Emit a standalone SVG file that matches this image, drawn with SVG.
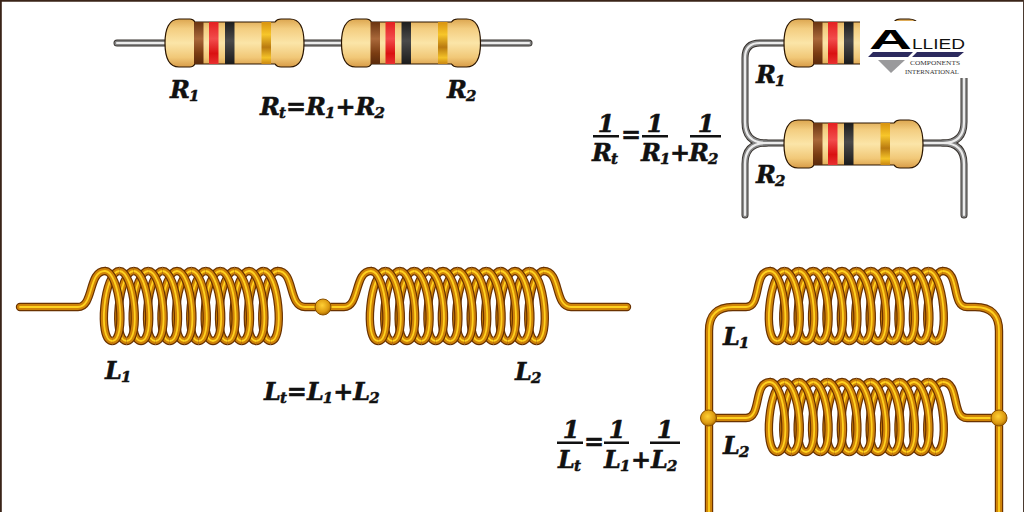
<svg xmlns="http://www.w3.org/2000/svg" width="1024" height="512" viewBox="0 0 1024 512">
<style>
.o,.m,.c,.go,.gm,.gc{fill:none}
.o{stroke:#6a3200;stroke-width:8.4}
.m{stroke:#d08408;stroke-width:6}
.c{stroke:#ffd21f;stroke-width:1.8}
.go{stroke:#35302c;stroke-width:7;stroke-linecap:round}
.gm{stroke:#858585;stroke-width:5.2;stroke-linecap:round}
.gc{stroke:#ececec;stroke-width:2.2;stroke-linecap:round}
.rc{stroke-linecap:round}
.t{font-family:"DejaVu Serif","Liberation Serif",serif;font-weight:bold;font-style:italic;font-size:24px;fill:#111;stroke:#111;stroke-width:.5}
.n{font-style:normal}
.s{font-size:15px}
.b{fill:#111}
.body{fill:url(#bg);stroke:#2a1500;stroke-width:1.2}
.ball{fill:url(#bl);stroke:#8a5000;stroke-width:1}
</style>
<defs>
<linearGradient id="bg" x1="0" y1="0" x2="0" y2="1"><stop offset="0" stop-color="#dca650"/><stop offset=".2" stop-color="#f3cd80"/><stop offset=".5" stop-color="#fbe5a8"/><stop offset=".8" stop-color="#f1c878"/><stop offset="1" stop-color="#d89c48"/></linearGradient>
<linearGradient id="br" x1="0" y1="0" x2="0" y2="1"><stop offset="0" stop-color="#6a3410"/><stop offset=".4" stop-color="#a9683a"/><stop offset=".75" stop-color="#7a3c12"/><stop offset="1" stop-color="#5a2a0c"/></linearGradient>
<linearGradient id="re" x1="0" y1="0" x2="0" y2="1"><stop offset="0" stop-color="#e42020"/><stop offset=".4" stop-color="#f24c4c"/><stop offset=".75" stop-color="#da1212"/><stop offset="1" stop-color="#e83030"/></linearGradient>
<linearGradient id="bk" x1="0" y1="0" x2="0" y2="1"><stop offset="0" stop-color="#1e1e1e"/><stop offset=".45" stop-color="#4a4a4a"/><stop offset="1" stop-color="#1c1c1c"/></linearGradient>
<linearGradient id="au" x1="0" y1="0" x2="0" y2="1"><stop offset="0" stop-color="#d9930f"/><stop offset=".3" stop-color="#f7c62a"/><stop offset=".6" stop-color="#b97a10"/><stop offset=".85" stop-color="#f4c228"/><stop offset="1" stop-color="#c98510"/></linearGradient>
<radialGradient id="bl" cx=".45" cy=".4" r=".6"><stop offset="0" stop-color="#ffd035"/><stop offset=".7" stop-color="#dc9a10"/><stop offset="1" stop-color="#a86a00"/></radialGradient>

<g id="res">
<path class="body" d="M14 0H25Q28 0 30 3H110Q112 0 116 0H125C135 0 139 10 139 24C139 38 135 48 125 48H116Q112 48 110 45H30Q28 48 25 48H14C4 48 0 38 0 24C0 10 4 0 14 0Z"/>
<rect x="29" y="3" width="9.5" height="42" fill="url(#br)"/>
<rect x="44" y="3" width="9.5" height="42" fill="url(#re)"/>
<rect x="60" y="3" width="9.5" height="42" fill="url(#bk)"/>
<rect x="96.500" y="3" width="9.5" height="42" fill="url(#au)"/>
</g>

<path id="pb" d="M7.2 70C-7.8 70-.8 0 14.400 0"/>
<path id="pf" d="M0 0C15 0 22 70 7.200 70"/>
<g id="tb"><use href="#pb" class="o"/><use href="#pb" class="m"/><use href="#pb" class="c"/></g>
<g id="tf"><use href="#pf" class="o"/><use href="#pf" class="m"/><use href="#pf" class="c"/></g>
<g id="coil">
<use href="#tb"/><use href="#tb" x="14.4"/><use href="#tb" x="28.8"/><use href="#tb" x="43.2"/><use href="#tb" x="57.6"/><use href="#tb" x="72"/><use href="#tb" x="86.4"/><use href="#tb" x="100.8"/><use href="#tb" x="115.2"/><use href="#tb" x="129.6"/><use href="#tb" x="144"/><use href="#tb" x="158.4"/>
<use href="#tf"/><use href="#tf" x="14.4"/><use href="#tf" x="28.8"/><use href="#tf" x="43.2"/><use href="#tf" x="57.6"/><use href="#tf" x="72"/><use href="#tf" x="86.4"/><use href="#tf" x="100.8"/><use href="#tf" x="115.2"/><use href="#tf" x="129.6"/><use href="#tf" x="144"/><use href="#tf" x="158.4"/>
</g>

<path id="g1" d="M117 43H529"/>
<path id="g2" d="M785 43H760Q745 43 745 58V122Q745 143 766 143H785"/>
<path id="g3" d="M745 215V164Q745 143 766 143"/>
<path id="g4" d="M922 143H943Q964 143 964 122V58Q964 43 950 43H922"/>
<path id="g5" d="M964 215V164Q964 143 943 143"/>
<path id="c1" d="M20 307H78C94 307 88 271 105 271"/>
<path id="c2" d="M277.800 271C295 271 288 307 305 307H344C360 307 354 271 371 271"/>
<path id="c3" d="M543.800 271C561 271 554 307 571 307H627"/>
<path id="c4" d="M709 512V331Q709 307 733 307H746C762 307 753 271 770 271"/>
<path id="c5" d="M942.800 271C960 271 951 307 967 307H975Q999 307 999 331V512"/>
<path id="c6" d="M709 418H746C762 418 753 382 770 382"/>
<path id="c7" d="M942.800 382C960 382 951 418 967 418H999"/>
</defs>

<rect width="1024" height="512" fill="#fff"/>
<path d="M0 .75H1024M.9 0V512" stroke="#3a2418" stroke-width="1.8" fill="none"/>
<path d="M1023.500 0V512" stroke="#4a3a30" stroke-width="1" fill="none"/>

<g id="connectors">
<use href="#g1" class="go"/><use href="#g1" class="gm"/><use href="#g1" class="gc"/>
<use href="#g2" class="go"/><use href="#g3" class="go"/><use href="#g4" class="go"/><use href="#g5" class="go"/>
<use href="#g2" class="gm"/><use href="#g3" class="gm"/><use href="#g4" class="gm"/><use href="#g5" class="gm"/>
<use href="#g2" class="gc"/><use href="#g3" class="gc"/><use href="#g4" class="gc"/><use href="#g5" class="gc"/>
<g class="rc">
<use href="#c1" class="o"/><use href="#c1" class="m"/><use href="#c1" class="c"/>
<use href="#c2" class="o"/><use href="#c2" class="m"/><use href="#c2" class="c"/>
<use href="#c3" class="o"/><use href="#c3" class="m"/><use href="#c3" class="c"/>
<use href="#c4" class="o"/><use href="#c4" class="m"/><use href="#c4" class="c"/>
<use href="#c5" class="o"/><use href="#c5" class="m"/><use href="#c5" class="c"/>
<use href="#c6" class="o"/><use href="#c6" class="m"/><use href="#c6" class="c"/>
<use href="#c7" class="o"/><use href="#c7" class="m"/><use href="#c7" class="c"/>
</g>
</g>

<g id="r1-series"><use href="#res" x="165" y="19"/><text class="t" x="170" y="98">R<tspan class="s" dx="-1" dy="3">1</tspan></text></g>
<g id="r2-series"><use href="#res" x="341.500" y="19"/><text class="t" x="447" y="98">R<tspan class="s" dx="-1" dy="3">2</tspan></text></g>
<g id="r-series-formula"><text class="t" x="260" y="115">R<tspan class="s" dx="-1" dy="3">t</tspan><tspan class="n" dy="-3">=</tspan>R<tspan class="s" dx="-1" dy="3">1</tspan><tspan class="n" dy="-3">+</tspan>R<tspan class="s" dx="-1" dy="3">2</tspan></text></g>

<g id="r1-parallel"><use href="#res" x="784" y="19"/><text class="t" x="756" y="83">R<tspan class="s" dx="-1" dy="3">1</tspan></text></g>
<g id="r2-parallel"><use href="#res" x="784" y="120"/><text class="t" x="756" y="183">R<tspan class="s" dx="-1" dy="3">2</tspan></text></g>
<g id="r-parallel-formula">
<text class="t" x="606" y="132" text-anchor="middle">1</text><rect class="b" x="593" y="135" width="26" height="2.500"/><text class="t" x="592" y="161">R<tspan class="s" dx="-1" dy="3">t</tspan></text>
<text class="t n" x="631" y="143" text-anchor="middle">=</text>
<text class="t" x="655" y="132" text-anchor="middle">1</text><rect class="b" x="642" y="135" width="26" height="2.500"/><text class="t" x="641" y="161">R<tspan class="s" dx="-1" dy="3">1</tspan></text>
<text class="t n" x="680" y="161" text-anchor="middle">+</text>
<text class="t" x="706" y="132" text-anchor="middle">1</text><rect class="b" x="690" y="135" width="31" height="2.500"/><text class="t" x="689" y="161">R<tspan class="s" dx="-1" dy="3">2</tspan></text>
</g>

<g id="logo">
<rect x="860" y="21" width="112" height="57" fill="#fff"/>
<text x="869" y="49" font-family="Liberation Sans,sans-serif" font-weight="bold" font-size="28" textLength="43" lengthAdjust="spacingAndGlyphs" fill="#000">A</text>
<text x="912" y="49" font-family="Liberation Sans,sans-serif" font-size="15" textLength="53" lengthAdjust="spacingAndGlyphs" fill="#111">LLIED</text>
<path d="M873 52H913L908 57H868ZM917 52H964L958 57H912Z" fill="#2c2a5e"/>
<path d="M878 60H905L891 73Z" fill="#9a9a9c"/>
<text x="910" y="65" font-family="Liberation Serif,serif" font-size="6.500" textLength="50" lengthAdjust="spacingAndGlyphs" fill="#333">COMPONENTS</text>
<text x="905" y="74" font-family="Liberation Serif,serif" font-size="6.500" textLength="54" lengthAdjust="spacingAndGlyphs" fill="#333">INTERNATIONAL</text>
</g>

<g id="l1-series"><use href="#coil" x="105" y="271"/><text class="t" x="105" y="379">L<tspan class="s" dx="-1" dy="3">1</tspan></text></g>
<g id="junction-series"><circle class="ball" cx="323" cy="307" r="8"/></g>
<g id="l2-series"><use href="#coil" x="371" y="271"/><text class="t" x="515" y="380">L<tspan class="s" dx="-1" dy="3">2</tspan></text></g>
<g id="l-series-formula"><text class="t" x="264" y="400">L<tspan class="s" dx="-1" dy="3">t</tspan><tspan class="n" dy="-3">=</tspan>L<tspan class="s" dx="-1" dy="3">1</tspan><tspan class="n" dy="-3">+</tspan>L<tspan class="s" dx="-1" dy="3">2</tspan></text></g>

<g id="l1-parallel"><use href="#coil" x="770" y="271"/><text class="t" x="723" y="345">L<tspan class="s" dx="-1" dy="3">1</tspan></text></g>
<g id="l2-parallel"><use href="#coil" x="770" y="382"/><text class="t" x="723" y="454">L<tspan class="s" dx="-1" dy="3">2</tspan></text></g>
<g id="junction-left"><circle class="ball" cx="708.500" cy="418" r="8"/></g>
<g id="junction-right"><circle class="ball" cx="999" cy="418" r="8"/></g>
<g id="l-parallel-formula">
<text class="t" x="571" y="438" text-anchor="middle">1</text><rect class="b" x="557" y="441.500" width="26" height="2.500"/><text class="t" x="558" y="468">L<tspan class="s" dx="-1" dy="3">t</tspan></text>
<text class="t n" x="594" y="450" text-anchor="middle">=</text>
<text class="t" x="617" y="438" text-anchor="middle">1</text><rect class="b" x="604" y="441.500" width="25" height="2.500"/><text class="t" x="604" y="468">L<tspan class="s" dx="-1" dy="3">1</tspan></text>
<text class="t n" x="641" y="468" text-anchor="middle">+</text>
<text class="t" x="665" y="438" text-anchor="middle">1</text><rect class="b" x="650" y="441.500" width="30" height="2.500"/><text class="t" x="651" y="468">L<tspan class="s" dx="-1" dy="3">2</tspan></text>
</g>
</svg>
